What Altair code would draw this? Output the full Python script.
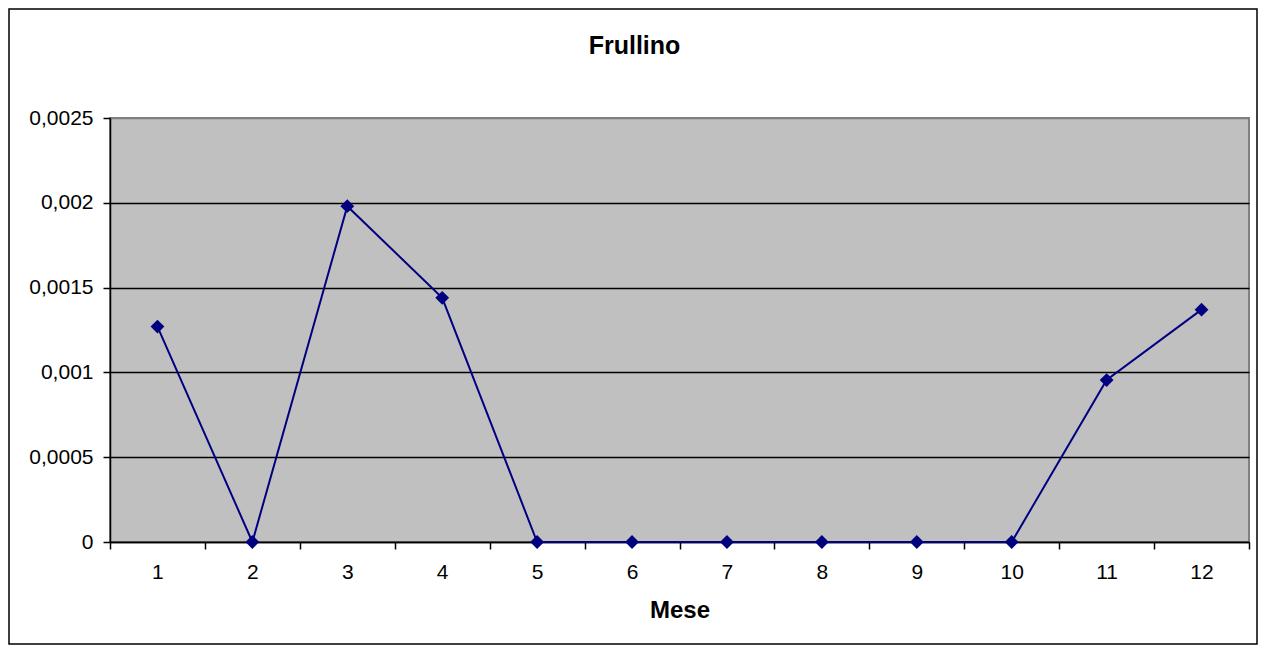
import altair as alt
import pandas as pd

mesi = [1, 2, 3, 4, 5, 6, 7, 8, 9, 10, 11, 12]
valori = [0.00127, 0.0, 0.00198, 0.00144, 0.0, 0.0, 0.0, 0.0, 0.0, 0.0, 0.000955, 0.00137]
y_ticks = [0, 0.0005, 0.001, 0.0015, 0.002, 0.0025]

df = pd.DataFrame({"Mese": mesi, "Valore": valori})

FONT = "Liberation Sans"
NAVY = "#000080"

x_enc = alt.X(
    "Mese:O",
    scale=alt.Scale(type="band", paddingInner=0, paddingOuter=0),
    bandPosition=0.5,
    axis=alt.Axis(
        title="Mese",
        labelAngle=0,
        tickBand="extent",
        grid=False,
        domainColor="black",
        domainWidth=1.5,
        tickColor="black",
        tickWidth=1.5,
        tickSize=7,
        labelPadding=12,
        labelFont=FONT,
        labelFontSize=21,
        labelColor="black",
        titleFont=FONT,
        titleFontSize=24,
        titleFontWeight="bold",
        titleColor="black",
        titlePadding=16,
    ),
)
y_enc = alt.Y(
    "Valore:Q",
    scale=alt.Scale(domain=[0, 0.0025], nice=False, zero=True),
    axis=alt.Axis(
        title=None,
        values=y_ticks,
        labelExpr="replace(toString(datum.value), '.', ',')",
        grid=True,
        gridColor=alt.condition("datum.value == 0.0025", alt.value("#808080"), alt.value("black")),
        gridWidth=1.5,
        domainColor="black",
        domainWidth=1.5,
        tickColor="black",
        tickWidth=1.5,
        tickSize=7,
        labelPadding=10,
        labelFont=FONT,
        labelFontSize=21,
        labelColor="black",
    ),
)

line = alt.Chart(df).mark_line(
    color=NAVY, strokeWidth=2,
    point=alt.OverlayMarkDef(shape="diamond", size=190, filled=True, color=NAVY, opacity=1),
).encode(x=x_enc, y=y_enc)

border = alt.Chart(pd.DataFrame({"a": [0]})).mark_rect(
    fill=None, stroke="black", strokeWidth=1.5, clip=False
).encode(
    x=alt.value(-101), x2=alt.value(1147), y=alt.value(-109), y2=alt.value(526)
)

chart = alt.layer(line, border).properties(
    width=1139,
    height=424,
    title=alt.TitleParams(
        "Frullino", font=FONT, fontSize=25, fontWeight="bold", color="black",
        anchor="middle", dx=-45, offset=-51,
    ),
    padding={"left": 102, "top": 110, "right": 9, "bottom": 103},
    autosize=alt.AutoSizeParams(type="none"),
).configure(
    background="white"
).configure_view(
    fill="#C0C0C0", stroke="#808080", strokeWidth=2
)

chart.save("out.html", embed_options={"renderer": "svg", "actions": False})
